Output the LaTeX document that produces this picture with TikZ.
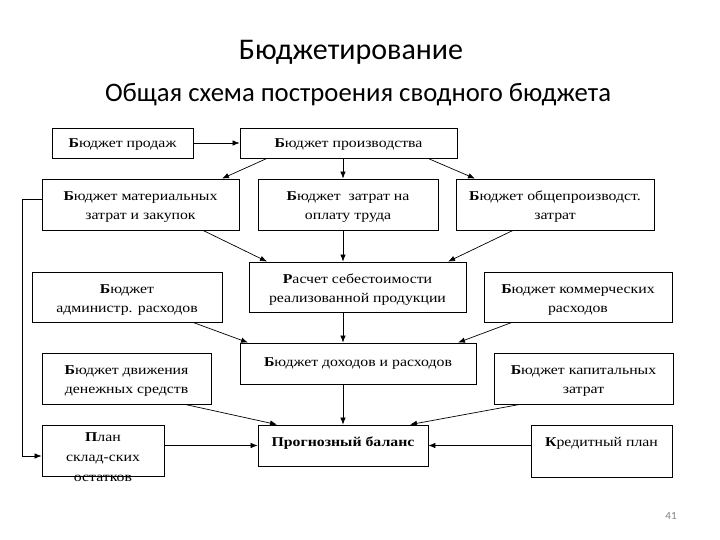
\documentclass[tikz,border=0pt]{standalone}
\usepackage{fontspec}
\setmainfont{Liberation Serif}
\newfontfamily\boxfont[FakeStretch=1.17]{Liberation Serif}
\newfontfamily\titlefont{Carlito}
\usetikzlibrary{arrows.meta}
\begin{document}
\begin{tikzpicture}[x=1pt,y=1pt,
  box/.style={draw,line width=0.8pt,align=center,inner sep=0pt,font=\boxfont\fontsize{13.5}{19}\selectfont},
  two/.style={text height=30pt,text depth=0pt},
  one/.style={text height=9pt,text depth=#1},
  arr/.style={line width=0.7pt,-{Latex[length=7pt,width=5.5pt]}}]
\useasboundingbox (0,0) rectangle (720,-540);
\node[font=\titlefont\fontsize{30}{36}\selectfont,anchor=base] (t1) at (351,-60) {Бюджетирование};
\node[font=\titlefont\fontsize{26.7}{32}\selectfont,anchor=base] (t2) at (358,-102) {Общая схема построения сводного бюджета};
\node[font=\titlefont\fontsize{11}{13}\selectfont,text=gray] (pn) at (671,-516) {41};
% boxes
\node[box,one=0pt,minimum width=141,minimum height=30] (b1) at (122.5,-143) {\textbf{Б}юджет продаж};
\node[box,one=0pt,minimum width=217,minimum height=30] (b2) at (348.5,-143) {\textbf{Б}юджет производства};
\node[box,two,minimum width=197,minimum height=51] (b3) at (140.5,-204.5) {\textbf{Б}юджет материальных\\затрат и закупок};
\node[box,two,minimum width=180,minimum height=51] (b4) at (348,-204.5) {\textbf{Б}юджет\ \ затрат на\\оплату труда};
\node[box,two,minimum width=198,minimum height=51] (b5) at (555,-204.5) {\textbf{Б}юджет общепроизводст.\\затрат};
\node[box,two,minimum width=217,minimum height=50] (b6) at (357.5,-287) {\textbf{Р}асчет себестоимости\\реализованной продукции};
\node[box,two,minimum width=190,minimum height=50] (b7) at (127,-297) {\textbf{Б}юджет\\администр. расходов};
\node[box,two,minimum width=188,minimum height=50] (b8) at (578,-297) {\textbf{Б}юджет коммерческих\\расходов};
\node[box,one=4pt,minimum width=236,minimum height=41] (b9) at (358,-363.5) {\textbf{Б}юджет доходов и расходов};
\node[box,two,minimum width=169,minimum height=51] (b10) at (126.5,-378.5) {\textbf{Б}юджет движения\\денежных средств};
\node[box,two,minimum width=179,minimum height=51] (b11) at (583.5,-378.5) {\textbf{Б}юджет капитальных\\затрат};
\node[box,minimum width=122,minimum height=51] (b12) at (103,-450.5) {};
\node[box,draw=none,anchor=north,font=\boxfont\fontsize{13.5}{20}\selectfont] (b12t) at (103,-432) {\textbf{П}лан\\склад-ских\\остатков};
\node[box,one=7pt,minimum width=170,minimum height=41] (b13) at (343,-445.5) {\textbf{Прогнозный баланс}};
\node[box,one=18pt,minimum width=141,minimum height=52] (b14) at (601.5,-451) {\textbf{К}редитный план};
% connectors
\draw[arr] (b1.east) -- (b1.east -| b2.west);
\draw[arr] ([xshift=-81.5pt]b2.south) -- ([xshift=81.5pt]b3.north);
\draw[arr] (b13.north |- b2.south) -- (b13.north |- b4.north);
\draw[arr] ([xshift=79.5pt]b2.south) -- ([xshift=-80pt]b5.north);
\draw[arr] ([xshift=62.5pt]b3.south) -- ([xshift=-90.5pt]b6.north);
\draw[arr] (b13.north |- b4.south) -- (b13.north |- b6.north);
\draw[arr] ([xshift=-42pt]b5.south) -- ([xshift=90.5pt]b6.north);
\draw[arr] ([xshift=66pt]b7.south) -- ([xshift=-110pt]b9.north);
\draw[arr] (b13.north |- b6.south) -- (b13.north |- b9.north);
\draw[arr] ([xshift=-66pt]b8.south) -- ([xshift=100pt]b9.north);
\draw[arr] ([xshift=58.5pt]b10.south) -- ([xshift=-66pt]b13.north);
\draw[arr] (b13.north |- b9.south) -- (b13.north);
\draw[arr] ([xshift=-63.5pt]b11.south) -- ([xshift=67pt]b13.north);
\draw[arr] (b12.east |- b13.west) -- (b13.west);
\draw[arr] (b14.west |- b13.east) -- (b13.east);
\draw[arr] ([yshift=5.5pt]b3.west) -- ++(-19,0) |- ([yshift=-5.5pt]b12.west);
\end{tikzpicture}
\end{document}
